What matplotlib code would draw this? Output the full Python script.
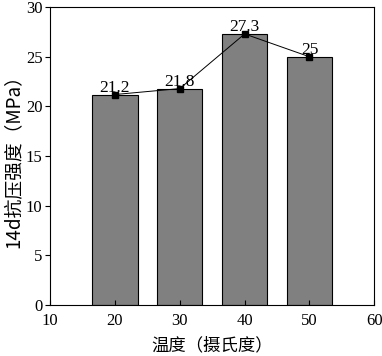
import matplotlib.pyplot as plt

temps = [20, 30, 40, 50]
strength = [21.2, 21.8, 27.3, 25]
labels = ["21.2", "21.8", "27.3", "25"]

plt.rcParams['font.family'] = ['Liberation Serif', 'Noto Sans CJK SC']

fig = plt.figure(figsize=(3.82, 3.56), dpi=100)
ax = fig.add_axes([0.131, 0.143, 0.849, 0.837])

ax.bar(temps, strength, width=7, color="#808080", edgecolor="black", linewidth=0.8)
ax.plot(temps, strength, color="black", linewidth=0.7, marker="s", markersize=4)
for x, y, t in zip(temps, strength, labels):
    ax.text(x, y - 0.1, t, ha="center", va="bottom", fontsize=12.5)

ax.set_xlim(10, 60)
ax.set_ylim(0, 30)
ax.set_xticks([10, 20, 30, 40, 50, 60])
ax.set_yticks([0, 5, 10, 15, 20, 25, 30])
ax.tick_params(axis="x", direction="in", labelsize=12, pad=6)
ax.tick_params(axis="y", direction="out", labelsize=12, pad=2)
ax.set_xlabel("温度（摄氏度）", fontsize=12.5, family=['Noto Sans CJK SC'], labelpad=5)
ax.set_ylabel("14d抗压强度（MPa）", fontsize=13.5, family=['Noto Sans CJK SC'], labelpad=1)

fig.savefig("out.png", dpi=100)
